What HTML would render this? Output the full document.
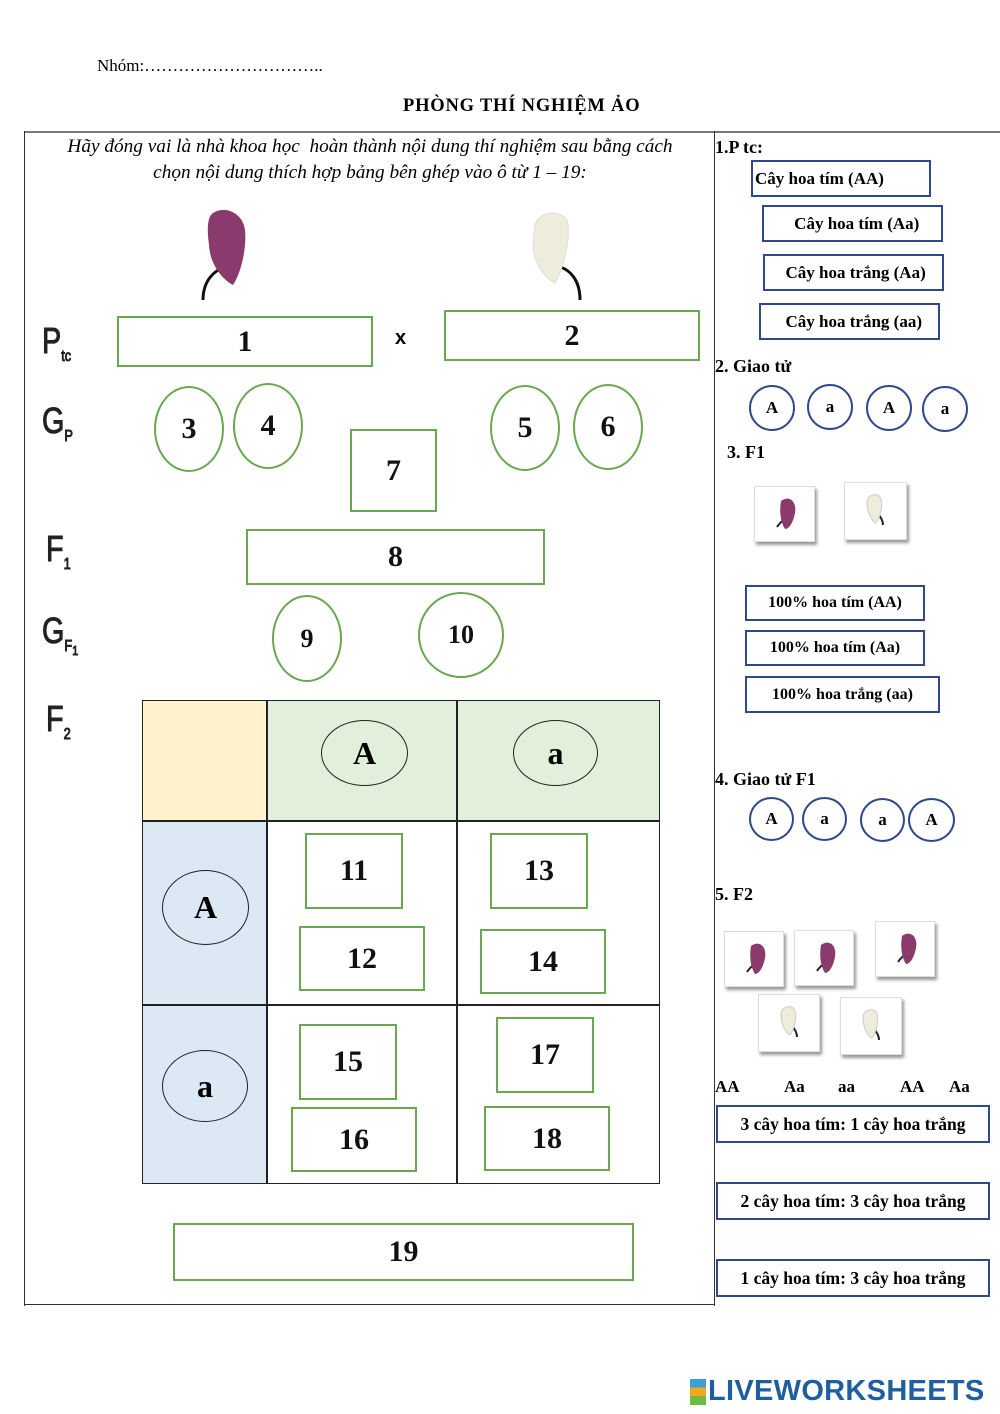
<!DOCTYPE html><html><head><meta charset="utf-8"><style>
body{margin:0;width:1000px;height:1414px;background:#fff;position:relative;font-family:"Liberation Serif",serif;overflow:hidden}
div,span{position:absolute;box-sizing:border-box}
.g{border:2px solid #6aa84f;display:flex;align-items:center;justify-content:center;font-weight:bold;font-size:30px;color:#111}
.c{border-radius:50%}
.bl{border:2px solid #2f4a8a;display:flex;align-items:center;justify-content:center;font-weight:bold;font-size:17px}
.t{font-weight:bold;font-size:17px;white-space:nowrap}
.lb{font-family:"Liberation Sans",sans-serif;font-size:36px;color:#222;transform:scaleX(.8);transform-origin:left;-webkit-text-stroke:1px #222}
.k{border:1.5px solid #222;border-radius:50%;display:flex;align-items:center;justify-content:center;font-weight:bold;font-size:32px}
.card{background:#fff;box-shadow:2px 3px 3px #999;border:1px solid #ddd}
</style></head><body>
<div style="left:97px;top:56px;font-size:17px">Nhóm:…………………………..</div>
<div class="t" style="left:403px;top:96px;font-size:18.5px;letter-spacing:0.8px">PHÒNG THÍ NGHIỆM ẢO</div>
<div style="left:24px;top:131px;width:976px;height:2px;background:#777"></div>
<div style="left:24px;top:131px;width:1px;height:1175px;background:#333"></div>
<div style="left:24px;top:1304px;width:691px;height:1px;background:#333"></div>
<div style="left:714px;top:131px;width:1px;height:1175px;background:#333"></div>
<div style="left:30px;top:134px;width:680px;text-align:center;font-style:italic;font-size:19.3px;line-height:26px;white-space:nowrap">Hãy đóng vai là nhà khoa học&nbsp; hoàn thành nội dung thí nghiệm sau bằng cách<br>chọn nội dung thích hợp bảng bên ghép vào ô từ 1 – 19:</div>
<svg style="position:absolute;left:195px;top:205px" width="60" height="100"><path d="M8 95 C8 75 20 65 30 62" stroke="#111" stroke-width="3" fill="none"/><path d="M18 8 C30 0 48 8 50 25 C52 45 45 70 38 80 C28 75 15 60 14 40 C12 25 12 12 18 8Z" fill="#8b3a6e"/></svg>
<svg style="position:absolute;left:525px;top:205px" width="60" height="100"><path d="M55 95 C55 75 45 65 35 62" stroke="#111" stroke-width="3" fill="none"/><path d="M10 20 C15 5 35 5 42 15 C46 30 40 60 30 78 C18 72 8 55 8 40Z" fill="#eeeddc" stroke="#ddd"/></svg>
<div class="lb" style="left:42px;top:320px">P<sub style="font-size:16px">tc</sub></div>
<div class="lb" style="left:42px;top:400px">G<sub style="font-size:16px">P</sub></div>
<div class="lb" style="left:46px;top:528px">F<sub style="font-size:16px">1</sub></div>
<div class="lb" style="left:42px;top:610px">G<sub style="font-size:16px">F<sub>1</sub></sub></div>
<div class="lb" style="left:46px;top:698px">F<sub style="font-size:16px">2</sub></div>
<div style="left:395px;top:327px;font-family:'Liberation Sans';font-weight:bold;font-size:20px">x</div>
<div class="g" style="left:117px;top:316px;width:256px;height:51px">1</div>
<div class="g" style="left:444px;top:310px;width:256px;height:51px">2</div>
<div class="g c" style="left:154px;top:386px;width:70px;height:86px">3</div>
<div class="g c" style="left:233px;top:383px;width:70px;height:86px">4</div>
<div class="g c" style="left:490px;top:385px;width:70px;height:86px">5</div>
<div class="g c" style="left:573px;top:384px;width:70px;height:86px">6</div>
<div class="g" style="left:350px;top:429px;width:87px;height:83px">7</div>
<div class="g" style="left:246px;top:529px;width:299px;height:56px">8</div>
<div class="g c" style="left:272px;top:595px;width:70px;height:87px;font-size:26px">9</div>
<div class="g c" style="left:418px;top:592px;width:86px;height:86px;font-size:26px">10</div>
<div style="left:142px;top:700px;width:124px;height:120px;background:#fff2cc"></div>
<div style="left:266px;top:700px;width:393px;height:120px;background:#e2efda"></div>
<div style="left:142px;top:820px;width:124px;height:363px;background:#dde8f5"></div>
<div style="left:142px;top:700px;width:518px;height:484px;border:1.5px solid #222"></div>
<div style="left:266px;top:700px;width:1.5px;height:484px;background:#222"></div>
<div style="left:456px;top:700px;width:1.5px;height:484px;background:#222"></div>
<div style="left:142px;top:820px;width:518px;height:1.5px;background:#222"></div>
<div style="left:142px;top:1004px;width:518px;height:1.5px;background:#222"></div>
<div class="k" style="left:321px;top:720px;width:87px;height:66px">A</div>
<div class="k" style="left:513px;top:720px;width:85px;height:66px">a</div>
<div class="k" style="left:162px;top:870px;width:87px;height:75px">A</div>
<div class="k" style="left:162px;top:1050px;width:86px;height:72px">a</div>
<div class="g" style="left:305px;top:833px;width:98px;height:76px">11</div>
<div class="g" style="left:299px;top:926px;width:126px;height:65px">12</div>
<div class="g" style="left:490px;top:833px;width:98px;height:76px">13</div>
<div class="g" style="left:480px;top:929px;width:126px;height:65px">14</div>
<div class="g" style="left:299px;top:1024px;width:98px;height:76px">15</div>
<div class="g" style="left:291px;top:1107px;width:126px;height:65px">16</div>
<div class="g" style="left:496px;top:1017px;width:98px;height:76px">17</div>
<div class="g" style="left:484px;top:1106px;width:126px;height:65px">18</div>
<div class="g" style="left:173px;top:1223px;width:461px;height:58px">19</div>
<div class="t" style="left:715px;top:137px;font-size:18px">1.P tc:</div>
<div class="bl" style="left:751px;top:160px;width:180px;height:37px;justify-content:flex-start;padding-left:2px">Cây hoa tím (AA)</div>
<div class="bl" style="left:762px;top:205px;width:181px;height:37px">&nbsp;&nbsp;Cây hoa tím (Aa)</div>
<div class="bl" style="left:763px;top:254px;width:181px;height:37px">&nbsp;Cây hoa trắng (Aa)</div>
<div class="bl" style="left:759px;top:303px;width:181px;height:37px">&nbsp;&nbsp;Cây hoa trắng (aa)</div>
<div class="t" style="left:715px;top:356px;font-size:18px">2. Giao tử</div>
<div class="bl c" style="left:749px;top:385px;width:46px;height:46px">A</div>
<div class="bl c" style="left:807px;top:384px;width:46px;height:46px">a</div>
<div class="bl c" style="left:866px;top:385px;width:46px;height:46px">A</div>
<div class="bl c" style="left:922px;top:386px;width:46px;height:46px">a</div>
<div class="t" style="left:727px;top:442px;font-size:18px">3. F1</div>
<div class="card" style="left:754px;top:486px;width:61px;height:56px"><svg width="60" height="56"><path d="M22 40 C26 34 30 32 32 30" stroke="#222" stroke-width="2" fill="none"/><path d="M26 14 C34 8 42 14 40 26 C38 36 34 42 30 42 C26 36 24 26 26 14Z" fill="#8b3a6e"/></svg></div>
<div class="card" style="left:844px;top:482px;width:63px;height:58px"><svg width="60" height="56"><path d="M38 42 C38 36 34 32 32 30" stroke="#222" stroke-width="2" fill="none"/><path d="M28 12 C36 10 38 18 36 28 C34 36 32 40 30 40 C24 34 22 26 22 20 C22 16 24 13 28 12Z" fill="#eeeddc" stroke="#ccc"/></svg></div>
<div class="bl" style="left:745px;top:585px;width:180px;height:36px;font-size:16px">100% hoa tím (AA)</div>
<div class="bl" style="left:745px;top:630px;width:180px;height:36px;font-size:16px">100% hoa tím (Aa)</div>
<div class="bl" style="left:745px;top:676px;width:195px;height:37px;font-size:16px">100% hoa trắng (aa)</div>
<div class="t" style="left:715px;top:769px;font-size:18px">4. Giao tử F1</div>
<div class="bl c" style="left:749px;top:797px;width:45px;height:44px">A</div>
<div class="bl c" style="left:802px;top:797px;width:45px;height:44px">a</div>
<div class="bl c" style="left:860px;top:798px;width:45px;height:44px">a</div>
<div class="bl c" style="left:908px;top:798px;width:47px;height:44px">A</div>
<div class="t" style="left:715px;top:884px;font-size:18px">5. F2</div>
<div class="card" style="left:724px;top:931px;width:60px;height:56px"><svg width="60" height="56"><path d="M22 40 C26 34 30 32 32 30" stroke="#222" stroke-width="2" fill="none"/><path d="M26 14 C34 8 42 14 40 26 C38 36 34 42 30 42 C26 36 24 26 26 14Z" fill="#8b3a6e"/></svg></div>
<div class="card" style="left:794px;top:930px;width:60px;height:56px"><svg width="60" height="56"><path d="M22 40 C26 34 30 32 32 30" stroke="#222" stroke-width="2" fill="none"/><path d="M26 14 C34 8 42 14 40 26 C38 36 34 42 30 42 C26 36 24 26 26 14Z" fill="#8b3a6e"/></svg></div>
<div class="card" style="left:875px;top:921px;width:60px;height:56px"><svg width="60" height="56"><path d="M22 40 C26 34 30 32 32 30" stroke="#222" stroke-width="2" fill="none"/><path d="M26 14 C34 8 42 14 40 26 C38 36 34 42 30 42 C26 36 24 26 26 14Z" fill="#8b3a6e"/></svg></div>
<div class="card" style="left:758px;top:994px;width:62px;height:58px"><svg width="60" height="56"><path d="M38 42 C38 36 34 32 32 30" stroke="#222" stroke-width="2" fill="none"/><path d="M28 12 C36 10 38 18 36 28 C34 36 32 40 30 40 C24 34 22 26 22 20 C22 16 24 13 28 12Z" fill="#eeeddc" stroke="#ccc"/></svg></div>
<div class="card" style="left:840px;top:997px;width:62px;height:58px"><svg width="60" height="56"><path d="M38 42 C38 36 34 32 32 30" stroke="#222" stroke-width="2" fill="none"/><path d="M28 12 C36 10 38 18 36 28 C34 36 32 40 30 40 C24 34 22 26 22 20 C22 16 24 13 28 12Z" fill="#eeeddc" stroke="#ccc"/></svg></div>
<div class="t" style="left:715px;top:1077px;font-size:17px">AA</div>
<div class="t" style="left:784px;top:1077px;font-size:17px">Aa</div>
<div class="t" style="left:838px;top:1077px;font-size:17px">aa</div>
<div class="t" style="left:900px;top:1077px;font-size:17px">AA</div>
<div class="t" style="left:949px;top:1077px;font-size:17px">Aa</div>
<div class="bl" style="left:716px;top:1105px;width:274px;height:38px;font-size:17.5px">3 cây hoa tím: 1 cây hoa trắng</div>
<div class="bl" style="left:716px;top:1182px;width:274px;height:38px;font-size:17.5px">2 cây hoa tím: 3 cây hoa trắng</div>
<div class="bl" style="left:716px;top:1259px;width:274px;height:38px;font-size:17.5px">1 cây hoa tím: 3 cây hoa trắng</div>
<div style="left:690px;top:1375px;display:flex;align-items:center"><span style="position:relative;width:16px;height:26px;background:linear-gradient(#3aa0d8 33%,#f2a81d 33% 66%,#6dbb45 66%);margin-right:2px"></span><span style="position:relative;font-family:'Liberation Sans';font-weight:bold;font-size:29px;color:#1f5f9e;letter-spacing:0.3px">LIVEWORKSHEETS</span></div>
</body></html>
